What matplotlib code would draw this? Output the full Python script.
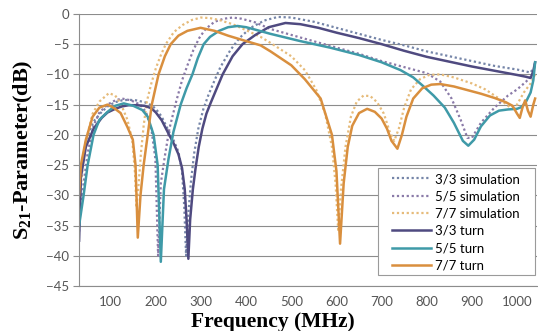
import matplotlib
matplotlib.use("Agg")
import matplotlib.pyplot as plt
from matplotlib.patches import Rectangle

# 3/3 turn
f_33 = [30, 34, 45, 62, 80, 93, 110, 125, 140, 157, 175, 190, 200, 213, 226, 240, 250, 258, 264, 268,
        272, 276, 282, 288, 295, 303, 312, 321, 335, 348, 370, 392, 420, 450, 487, 520, 560, 600, 650,
        700, 750, 800, 850, 900, 950, 1000, 1020, 1030, 1036, 1040]
s_33 = [-37.5, -27, -22, -19, -17.2, -16.3, -15.7, -15.3, -15.1, -15.1, -15.2, -15.6, -16.3, -17.6, -19.5, -21.5, -23.2, -25.5, -29, -34,
        -40.5, -34, -29, -25.5, -22, -19, -16.5, -14.8, -12.3, -10, -7, -5, -3.5, -2.2, -1.5, -1.7, -2.3, -3.1, -4.0,
        -5.0, -6.1, -7.1, -7.9, -8.7, -9.4, -10.1, -10.4, -10.6, -9.5, -8]

# 3/3 simulation
f_33s = [30, 34, 45, 62, 80, 95, 110, 125, 140, 157, 175, 190, 200, 213, 226, 240, 250, 258, 263, 267,
         272, 278, 285, 294, 305, 316, 330, 343, 365, 385, 410, 440, 470, 500, 550, 600, 650, 700, 750,
         800, 850, 900, 950, 1000, 1030, 1040]
s_33s = [-36, -26, -21, -17.8, -16.2, -15.2, -14.6, -14.3, -14.2, -14.3, -14.6, -15.1, -15.7, -17, -19, -21, -22.8, -26, -32, -40,
         -33, -27.5, -23, -19, -15.8, -13.5, -11, -8.8, -6, -4, -2.3, -1.1, -0.5, -0.6, -1.3, -2.3, -3.3, -4.3, -5.2,
         -6.2, -7.0, -7.8, -8.6, -9.2, -9.7, -8.5]

# 5/5 turn
f_55 = [30, 40, 49, 62, 75, 93, 110, 129, 150, 170, 182, 195, 204, 211, 218, 228, 239, 255, 268, 281,
        293, 306, 320, 340, 360, 381, 400, 420, 454, 520, 587, 650, 700, 742, 770, 793, 815, 840, 860,
        880, 892, 905, 920, 940, 960, 980, 1000, 1010, 1020, 1030, 1036, 1040]
s_55 = [-35, -30, -25, -20, -17.5, -16.2, -15.2, -14.8, -15.2, -15.9, -17, -20, -25, -41, -29, -24, -19.5, -15, -12.3, -10,
        -7.3, -5, -3.8, -2.8, -2.2, -2.0, -2.2, -2.6, -3.3, -4.5, -5.6, -6.8, -8, -9.3, -10.5, -12, -13.5, -15.5, -18,
        -21, -21.8, -20.8, -18.6, -16.8, -16, -15.8, -15.7, -15.4, -14.5, -13, -11, -8]

# 5/5 simulation
f_55s = [30, 40, 49, 62, 75, 93, 110, 125, 145, 165, 178, 190, 199, 205, 211, 220, 230, 245, 258, 270,
         283, 296, 310, 330, 350, 370, 390, 420, 454, 520, 587, 650, 700, 750, 800, 830, 855, 875, 890,
         900, 920, 950, 980, 1000, 1020, 1035, 1040]
s_55s = [-34, -28, -23, -18.5, -16.3, -15, -14.3, -14, -14.3, -15, -16.2, -19, -24, -40, -28, -23.5, -19, -14.5, -11, -8.5,
         -6, -4, -2.5, -1.3, -0.8, -0.6, -0.8, -1.4, -2.5, -3.9, -5.3, -6.6, -7.8, -8.8, -9.8, -11.2, -14, -17.5, -20.5,
         -20.5, -18, -15.5, -13.5, -12.5, -11.2, -10, -8]

# 7/7 turn
f_77 = [30, 34, 45, 60, 75, 93, 108, 122, 137, 149, 155, 160, 166, 173, 182, 191, 206, 220, 233, 250,
        270, 299, 330, 360, 400, 432, 454, 500, 530, 565, 590, 600, 608, 616, 625, 635, 650, 668, 685,
        700, 712, 722, 735, 745, 755, 770, 790, 810, 830, 860, 890, 920, 950, 975, 990, 1000, 1006, 1012,
        1018, 1024, 1030, 1036, 1040]
s_77 = [-30, -25, -20.8, -17, -15.5, -15, -15.6, -16.4, -18.7, -20.8, -25, -37, -30, -25, -20, -15, -10, -7, -5, -3.6,
        -2.8, -2.3, -2.8, -3.6, -4.5, -5.2, -6.2, -8.5, -10.8, -14, -20, -26, -38, -28, -22, -18.5, -16.4, -15.7, -16.2,
        -17.3, -19, -21, -22.3, -20, -17, -14, -12.3, -11.7, -11.6, -12, -12.6, -13.2, -13.9, -14.6, -15.2, -16.5, -17.2, -15.5,
        -14.3, -16, -17, -15, -14]

# 7/7 simulation
f_77s = [30, 40, 50, 60, 75, 96, 110, 122, 137, 148, 154, 157, 161, 167, 173, 180, 190, 200, 210, 222,
         240, 260, 280, 300, 320, 340, 370, 400, 432, 454, 500, 530, 555, 575, 590, 598, 604, 610, 620,
         632, 645, 660, 675, 690, 705, 718, 728, 738, 750, 765, 785, 805, 830, 860, 900, 930, 960, 985,
         1000, 1015, 1030, 1040]
s_77s = [-31, -24, -19.5, -16.5, -14.5, -13.1, -13.5, -14.8, -17.5, -21, -26.5, -32, -29, -23, -18.5, -14.5, -11.5, -9, -7, -5,
         -3, -1.8, -1, -0.6, -0.7, -1.0, -1.7, -2.7, -3.8, -4.8, -7, -9.3, -12.5, -16.5, -22, -28, -36, -29, -22,
         -17, -14.5, -13.5, -13.6, -14.6, -16.5, -19.5, -21, -19, -15.5, -12.5, -10.8, -10.1, -10.0, -10.5, -11.5, -12.5, -14, -15.5,
         -15, -13, -11.5, -10]

y_ticks = [0, -5, -10, -15, -20, -25, -30, -35, -40, -45]
x_ticks = [100, 200, 300, 400, 500, 600, 700, 800, 900, 1000]

c33 = "#4f4a80"
c55 = "#3f9aa8"
c77 = "#d98f3e"

plt.rcParams["mathtext.fontset"] = "custom"
plt.rcParams["mathtext.rm"] = "Liberation Serif:bold"
plt.rcParams["mathtext.it"] = "Liberation Serif:bold"
plt.rcParams["mathtext.bf"] = "Liberation Serif:bold"

fig = plt.figure(figsize=(5.38, 3.31), dpi=100)
ax = fig.add_axes([0.147, 0.136, 0.851, 0.822])

dot = (0, (1, 1.2))
ax.plot(f_33s, s_33s, color="#7585a8", lw=1.6, ls=dot, label="3/3 simulation")
ax.plot(f_55s, s_55s, color="#8a7aa8", lw=1.6, ls=dot, label="5/5 simulation")
ax.plot(f_77s, s_77s, color="#e6bb7a", lw=1.6, ls=dot, label="7/7 simulation")
ax.plot(f_33, s_33, color=c33, lw=1.8, label="3/3 turn")
ax.plot(f_55, s_55, color=c55, lw=1.8, label="5/5 turn")
ax.plot(f_77, s_77, color=c77, lw=1.8, label="7/7 turn")

ax.set_xlim(30, 1044)
ax.set_ylim(-45, 0)
ax.set_yticks(y_ticks)
ax.set_xticks(x_ticks)
ax.yaxis.grid(True, color="#8c8c8c", lw=0.8)
ax.set_axisbelow(True)
for s in ["top", "right"]:
    ax.spines[s].set_visible(False)
ax.spines["left"].set_color("#8c8c8c")
ax.spines["bottom"].set_color("#8c8c8c")
ax.tick_params(axis="y", length=4, color="#8c8c8c", labelsize=9.5, labelcolor="#555555", pad=3)
ax.tick_params(axis="x", length=0, labelsize=9.5, labelcolor="#555555", pad=7)
for lb in ax.get_xticklabels() + ax.get_yticklabels():
    lb.set_family("Lato")

ax.set_ylabel(r"S$_{21}$-Parameter(dB)", fontsize=16, fontweight="bold",
              family="Liberation Serif", va="center")
ax.yaxis.set_label_coords(-0.122, 0.5)
ax.set_xlabel("Frequency (MHz)", fontsize=15.5, fontweight="bold",
              family="Liberation Serif", va="center")
ax.xaxis.set_label_coords(0.424, -0.133)

# legend box, drawn as a patch so it gets the wide side padding
box = Rectangle((0.653, 0.040), 0.343, 0.394, transform=ax.transAxes, facecolor="white",
                edgecolor="#9a9a9a", lw=0.8, zorder=4.5)
ax.add_patch(box)
leg = ax.legend(loc="upper left", bbox_to_anchor=(0.683, 0.415), frameon=False,
                handlelength=3.0, handletextpad=0.3, labelspacing=0.4, borderpad=0,
                borderaxespad=0, prop={"family": "Lato", "size": 9.5})
leg.set_zorder(5)

plt.savefig("out.png", dpi=100)
